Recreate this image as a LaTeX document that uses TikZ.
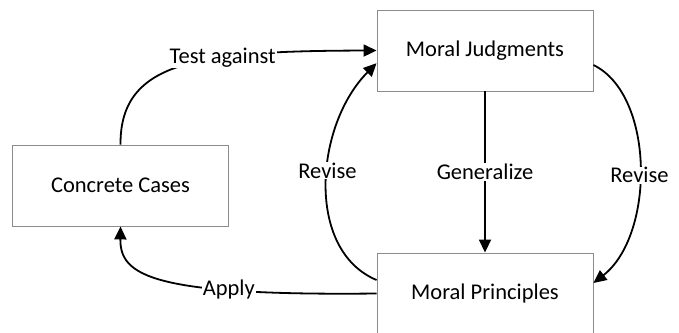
\documentclass[tikz,border=0pt]{standalone}
\usepackage{fontspec}
\setmainfont{Carlito}
\usetikzlibrary{arrows.meta,calc}
\tikzset{
  box/.style={draw=black!45, line width=0.9pt, minimum width=216pt, minimum height=81pt, inner sep=0pt, font=\fontsize{22.5}{27}\selectfont},
  arr/.style={line width=1.8pt, -{Triangle[length=13pt,width=12pt]}},
  plain/.style={line width=1.8pt},
  lbl/.style={fill=white, inner sep=1pt, font=\fontsize{22.5}{27}\selectfont}
}
\begin{document}
\begin{tikzpicture}[x=1pt,y=-1pt]
\useasboundingbox[fill=white] (0,0) rectangle (679,332);
\node[box] (mj) at (485,50.5) {Moral Judgments};
\node[box] (cc) at (120.5,185.5) {Concrete Cases};
\node[box] (mp) at (485,293.5) {Moral Principles};
% Test against
\draw[arr] (cc.north) .. controls (120,60) and (200,51) .. node[lbl, pos=0.64] {Test against} (mj.west);
% Generalize
\draw[arr] (mj.south) -- node[lbl, pos=0.5] {Generalize} (mp.north);
% Left revise
\draw[arr] ($(mp.west)+(0,-13.5)$) .. controls (305,250) and (315,125) .. node[lbl, pos=0.55] {Revise} ($(mj.west)+(0,12.7)$);
% Right revise
\draw[arr] ($(mj.east)+(0,14.5)$) .. controls (655,95) and (655,235) .. node[lbl, pos=0.53] {Revise} ($(mp.east)+(0,-10.5)$);
% Apply
\draw[arr] (mp.west) .. controls (150,296) and (120,275) .. node[lbl, pos=0.28] {Apply} (cc.south);
\end{tikzpicture}
\end{document}
